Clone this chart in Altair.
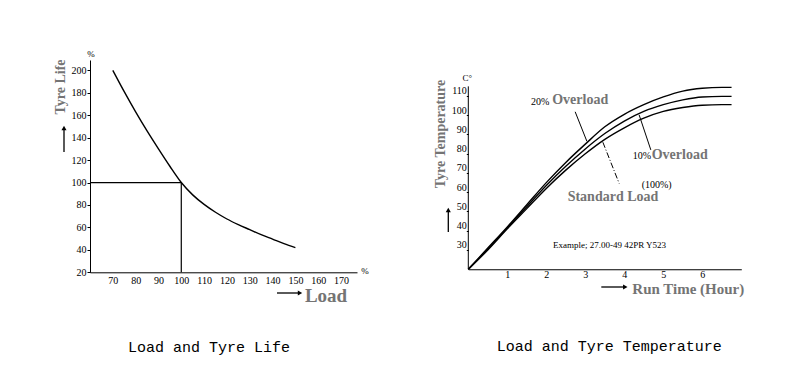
import altair as alt
import pandas as pd

# ---------------- data: Load and Tyre Life ----------------
load_pct = [70, 75, 80, 85, 90, 95, 100, 105, 110, 115, 120, 125, 130, 135, 140, 145, 150]
tyre_life = [200, 181, 163, 146, 130, 114.5, 100, 89, 80.5, 73.5, 67.5, 62.5, 58, 53.5, 49.5, 45.5, 42]
ref_load = [60, 100, 100]
ref_life = [100, 100, 20]
left_x_ticks = [70, 80, 90, 100, 110, 120, 130, 140, 150, 160, 170]
left_y_ticks = [20, 40, 60, 80, 100, 120, 140, 160, 180, 200]

# ---------------- data: Load and Tyre Temperature ----------------
run_time = [0, 0.5, 1, 1.5, 2, 2.5, 3, 3.5, 4, 4.5, 5, 5.5, 6, 6.5, 6.75]
temp_20 = [20, 31, 42, 53.5, 65, 75.5, 85, 94, 100.5, 105.5, 109.5, 112.5, 114, 114.5, 114.5]
temp_10 = [20, 30.5, 41.5, 52.5, 63.5, 73.5, 82.5, 90.5, 97, 102, 105.5, 108, 109.5, 109.8, 109.8]
temp_std = [20, 30, 41, 51.5, 62, 71.5, 80, 87.5, 93.5, 98.5, 102, 104, 105.2, 105.5, 105.5]
right_x_ticks = [1, 2, 3, 4, 5, 6]
right_y_ticks = [30, 40, 50, 60, 70, 80, 90, 100, 110]
yaxis_line_x = [0, 0]
yaxis_line_y = [20, 115]

ptr_20_x = [2.74, 3.04]
ptr_20_y = [101.8, 86.5]
ptr_10_x = [4.38, 4.68]
ptr_10_y = [100.2, 82.0]
ptr_std_x = [3.45, 3.87]
ptr_std_y = [86.0, 64.5]

small_labels = ["20%", "10%", "(100%)"]
small_x = [1.84, 4.45, 4.83]
small_y = [107.0, 79.0, 63.6]
bold_labels = ["Overload", "Overload", "Standard Load"]
bold_x = [2.87, 5.42, 3.71]
bold_y = [107.9, 79.4, 57.4]
example_label = "Example; 27.00-49  42PR   Y523"
example_x = [3.62]
example_y = [32.6]

SERIF = "Liberation Serif"
MONO = "Liberation Mono"
GRAY = "#747474"

one = pd.DataFrame({"k": [0]})


def ptext(label, x, y, size=10, color="black", weight="normal", font=SERIF, angle=None):
    kw = dict(text=label, fontSize=size, color=color, fontWeight=weight, font=font,
              align="center", baseline="middle")
    if angle is not None:
        kw["angle"] = angle
    return alt.Chart(one).mark_text(**kw).encode(x=alt.value(x), y=alt.value(y))


def arrow_up(x, y_tail, y_head):
    shaft = alt.Chart(one).mark_rule(color="black", strokeWidth=1.3).encode(
        x=alt.value(x), y=alt.value(y_head + 3), y2=alt.value(y_tail))
    head = alt.Chart(one).mark_point(shape="triangle-up", filled=True, size=26,
                                     color="black", opacity=1).encode(
        x=alt.value(x), y=alt.value(y_head + 3))
    return [shaft, head]


def arrow_right(x_tail, x_head, y):
    shaft = alt.Chart(one).mark_rule(color="black", strokeWidth=1.3).encode(
        x=alt.value(x_tail), x2=alt.value(x_head - 3), y=alt.value(y))
    head = alt.Chart(one).mark_point(shape="triangle-right", filled=True, size=26,
                                     color="black", opacity=1).encode(
        x=alt.value(x_head - 3), y=alt.value(y))
    return [shaft, head]


# ---------------- left panel ----------------
XL = alt.X("x:Q", scale=alt.Scale(domain=[60, 177], nice=False, zero=False),
           axis=alt.Axis(values=left_x_ticks, title=None, ticks=False, labelPadding=3,
                         labelBaseline="top"))
YL = alt.Y("y:Q", scale=alt.Scale(domain=[20, 209.2], nice=False, zero=False),
           axis=alt.Axis(values=left_y_ticks, title=None, tickSize=3, labelPadding=1))

life_df = pd.DataFrame({"x": load_pct, "y": tyre_life})
ref_df = pd.DataFrame({"x": ref_load, "y": ref_life, "o": [0, 1, 2]})

life_line = alt.Chart(life_df).mark_line(color="black", strokeWidth=1.4,
                                         interpolate="monotone").encode(x=XL, y=YL)
ref_line = alt.Chart(ref_df).mark_line(color="black", strokeWidth=1.2).encode(
    x=XL, y=YL, order="o:Q")

anchor = alt.Chart(one).mark_rect(opacity=0).encode(
    x=alt.value(-82), x2=alt.value(-81), y=alt.value(-52), y2=alt.value(305))

left_layers = [anchor, life_line, ref_line,
               ptext("%", 1, -6, size=9),
               ptext("%", 275, 211, size=9),
               ptext("Tyre Life", -29, 27, size=14, color=GRAY, weight="bold", angle=270),
               ptext("Load", 236, 236, size=19, color=GRAY, weight="bold"),
               ptext("Load and Tyre Life", 119, 287, size=15, font=MONO)]
left_layers += arrow_up(-26, 92, 65)
left_layers += arrow_right(187, 213, 233)

left = alt.layer(*left_layers).properties(width=267, height=212.3)

# ---------------- right panel ----------------
XR = alt.X("x:Q", scale=alt.Scale(domain=[0, 7], nice=False, zero=False),
           axis=alt.Axis(values=right_x_ticks, title=None, ticks=False, labelPadding=0,
                         labelBaseline="top"))
YR = alt.Y("y:Q", scale=alt.Scale(domain=[20, 128.7], nice=False, zero=False),
           axis=alt.Axis(values=right_y_ticks, title=None, domain=False, tickSize=2,
                         labelPadding=0, labelBaseline="bottom"))

temp_df = pd.DataFrame({
    "x": run_time * 3,
    "y": temp_20 + temp_10 + temp_std,
    "series": ["20% Overload"] * len(run_time) + ["10% Overload"] * len(run_time)
              + ["Standard Load"] * len(run_time),
})
axis_df = pd.DataFrame({"x": yaxis_line_x, "y": yaxis_line_y})
ptr_df = pd.DataFrame({"x": ptr_20_x + ptr_10_x, "y": ptr_20_y + ptr_10_y,
                       "p": ["a", "a", "b", "b"]})
ptr_std_df = pd.DataFrame({"x": ptr_std_x, "y": ptr_std_y})
small_df = pd.DataFrame({"x": small_x, "y": small_y, "t": small_labels})
bold_df = pd.DataFrame({"x": bold_x, "y": bold_y, "t": bold_labels})
ex_df = pd.DataFrame({"x": example_x, "y": example_y, "t": [example_label]})

temp_lines = alt.Chart(temp_df).mark_line(color="black", strokeWidth=1.4,
                                          interpolate="monotone").encode(
    x=XR, y=YR, detail="series:N")
yaxis_line = alt.Chart(axis_df).mark_line(color="black", strokeWidth=1).encode(x=XR, y=YR)
ptr_lines = alt.Chart(ptr_df).mark_line(color="black", strokeWidth=1).encode(
    x=XR, y=YR, detail="p:N")
ptr_std = alt.Chart(ptr_std_df).mark_line(color="black", strokeWidth=1,
                                          strokeDash=[6, 2, 1, 2]).encode(x=XR, y=YR)
small_txt = alt.Chart(small_df).mark_text(font=SERIF, fontSize=10, color="black").encode(
    x=XR, y=YR, text="t:N")
bold_txt = alt.Chart(bold_df).mark_text(font=SERIF, fontSize=14, fontWeight="bold",
                                        color=GRAY).encode(x=XR, y=YR, text="t:N")
ex_txt = alt.Chart(ex_df).mark_text(font=SERIF, fontSize=9, color="black").encode(
    x=XR, y=YR, text="t:N")

right_layers = [temp_lines, yaxis_line, ptr_lines, ptr_std, small_txt, bold_txt, ex_txt,
                ptext("C°", -1, 18, size=9),
                ptext("Tyre Temperature", -27, 74, size=14, color=GRAY, weight="bold",
                      angle=270),
                ptext("Run Time (Hour)", 220, 229, size=15, color=GRAY, weight="bold"),
                ptext("Load and Tyre Temperature", 141, 286, size=15, font=MONO)]
right_layers += arrow_up(-20, 172, 147)
right_layers += arrow_right(133, 160, 227)

right = alt.layer(*right_layers).properties(width=273, height=209.25)

chart = alt.hconcat(left, right, spacing=111.3, bounds="flush").properties(
    padding=0
).configure_view(stroke=None).configure_axis(
    grid=False, domainColor="black", domainWidth=1, tickColor="black",
    labelColor="black", labelFont=SERIF, labelFontSize=10
)

chart.save("out.html", embed_options={"renderer": "svg", "actions": False})
